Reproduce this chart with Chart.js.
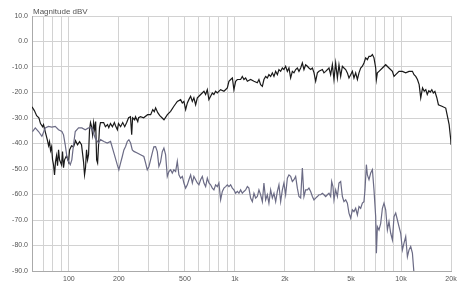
<!DOCTYPE html>
<html>
<head>
<meta charset="utf-8">
<script src="https://cdn.jsdelivr.net/npm/chart.js@4.4.0/dist/chart.umd.min.js"></script>
<style>
  html, body { margin: 0; padding: 0; background: #fff; }
</style>
</head>
<body>
<canvas id="chart" width="465" height="285"></canvas>
<script>
// frequency response
const blackHz = [60,62,64,66,67.5,69.5,70.4,72.4,74.4,75.5,76.5,77.6,78.7,79.8,80.9,82,83.1,84.3,85.5,86.7,87.9,90.4,91.6,92.9,94.2,96.8,99.6,101,103.8,106.7,109.7,112.8,116,119.2,122.6,124.3,126,127.8,129.6,131.4,133.2,135,137,139,141,143,145,147,149,151,153,155,
  162,166,171,174,178,183,188,191,196,199,205,211,217,223,229,235,239,242,249,252,260,263,270,282,298,311,320,327,333,343,353,
  365,374,392,410,429,450,471,482,493,505,517,528,541,554,566,580,594,622,651,666,682,697,714,731,747,765,783,820,859,900,920,943,965,986,1010,1034,1082,1108,1133,1160,1188,1243,1302,1364,1395,1428,1463,1495,1531,1567,1602,1641,1680,1718,1759,1801,1841,1885,1930,1973,2020,2069,2115,2165,2217,2267,2321,2376,2430,2488,2547,2604,2666,2730,2791,2858,2927,2992,3063,3136,3206,3361,3436,3519,3684,3771,3861,3948,4042,4139,4231,4332,4436,4535,4644,4754,4861,4977,5095,5210,5334,5462,5585,5717,5854,5984,6127,6274,6415,6568,6725,6876,7040,7109,7208,7370,7726,8087,8465,8877,9075,9292,9727,10196,10674,11174,11713,11975,12264,12560,12860,13145,13480,13800,14100,14390,14700,15000,15330,15650,16000,16440,16800,17630,18590,19040,19490,19930,20000];
const blackDb = [-25.6,-27.1,-29.1,-29.9,-32.2,-33.4,-32.6,-35.8,-38.9,-40.9,-39.3,-42.8,-41.3,-46.4,-48.4,-52.3,-47.2,-44.8,-48.7,-42.5,-46.4,-48.4,-43.2,-49.5,-46.4,-44.8,-47.2,-42.5,-40.9,-41.3,-38.9,-40.5,-39.3,-40.5,-47.2,-52.3,-49.5,-42.5,-46.4,-44.4,-34.6,-31.8,-33.4,-36.6,-31.8,-34.6,-31.4,-46.4,-47.6,-40.5,-33.8,-31.8,
  -31.8,-33.4,-32.6,-33.8,-32.2,-33.4,-31.8,-33.0,-34.6,-32.2,-33.4,-31.8,-33.4,-31.8,-29.9,-29.5,-36.6,-29.9,-30.7,-29.5,-31.4,-29.9,-29.5,-29.9,-28.7,-28.7,-26.7,-27.5,-26.0,-27.9,-29.1,
  -30.0,-30.7,-28.7,-27.4,-25.4,-23.5,-22.8,-24.1,-23.5,-26.7,-24.1,-22.8,-21.5,-23.5,-22.1,-24.8,-22.1,-20.8,-19.5,-20.8,-18.9,-22.8,-21.5,-20.2,-20.8,-19.5,-20.2,-18.9,-19.5,-18.2,-15.6,-14.9,-14.3,-18.9,-15.6,-14.9,-14.9,-13.7,-14.9,-14.3,-15.6,-14.9,-15.6,-16.2,-14.9,-16.9,-17.6,-14.9,-13.7,-14.3,-13.0,-13.7,-12.3,-13.7,-11.7,-13.0,-11.0,-11.7,-10.4,-11.0,-9.7,-11.7,-10.4,-14.3,-11.7,-12.3,-11.0,-10.4,-11.7,-10.4,-8.4,-11.0,-9.1,-9.7,-10.4,-11.0,-10.4,-12.2,-15.6,-12.3,-11.7,-11.0,-12.3,-11.7,-10.4,-13.0,-9.1,-14.9,-8.4,-14.3,-9.1,-13.7,-9.7,-10.4,-11.0,-12.3,-14.3,-13.0,-11.7,-14.3,-12.3,-14.9,-12.3,-10.4,-9.7,-8.4,-6.4,-7.1,-5.8,-5.8,-5.1,-6.4,-10.4,-14.9,-12.3,-11.7,-10.4,-9.1,-10.4,-11.7,-13.7,-13.0,-11.7,-11.7,-12.3,-11.7,-11.7,-13.0,-13.7,-14.9,-16.9,-22.1,-18.2,-19.5,-18.9,-20.8,-19.3,-19.8,-18.9,-20.2,-19.6,-22.1,-24.8,-25.4,-26.1,-29.4,-32.6,-38.5,-40.5];

const grayHz = [60.4,62.8,65.7,68.8,72.1,75.4,79,82.8,86.7,90.8,92.9,95.1,97.3,99.6,102,104.2,106.7,109.3,114.4,119.8,125.5,131.4,137.6,144.2,151,155.2,162.5,170.3,178.3,186.7,195.6,200,204.8,209.8,214.5,219.6,224.8,229.9,235.4,241,246.4,258.2,270.3,282.9,289.7,296.6,303.3,310.6,318,325,332.9,340.8,348.5,356.8,365.3,373.5,382.4,
  391.5,400.4,410,419.7,429,439.5,449.8,459.9,471,482.3,493,504.8,516.9,528.4,541.1,554.1,566.2,580,593.7,607,621.5,636.3,650.6,666.2,682,697.4,714,731,747.4,765.2,783.4,801,820.2,839.7,858.5,879,900,920.3,942.1,964.5,986.3,1010,1034,1057,1082,1108,1133,1160,1188,1214,1243,1273,1302,1333,1364,1395,1428,1463,1495,1531,1567,1602,1641,1680,1718,1759,1801,1841,1885,1930,1973,2020,2069,2115,2165,2217,2267,2321,2376,2430,2488,2547,2604,2666,
  2730,2791,2858,2927,2992,3063,3136,3206,3283,3361,3436,3519,3602,3684,3771,3824,3894,3948,4042,4139,4231,4332,4436,4535,4644,4754,4861,4977,5095,5210,5334,5462,5585,5717,5854,5984,6068,6188,6274,6415,6568,6725,6876,7040,7109,7208,7370,7546,7726,7899,8087,8280,8465,8670,8877,9075,9292,9513,9727,9959,10196,10425,10674,10928,11174,11439,11713,11975];
const grayDb = [-35.3,-33.9,-35.3,-37.2,-33.9,-33.3,-33.6,-33.3,-34.6,-35.3,-36.6,-40.5,-45.1,-47.0,-48.3,-46.4,-40.5,-35.3,-33.9,-33.9,-34.6,-33.9,-33.9,-37.9,-39.8,-38.5,-39.2,-39.8,-39.2,-43.7,-48.3,-50.3,-47.7,-45.1,-42.5,-41.2,-39.2,-38.5,-39.8,-42.5,-43.1,-43.7,-44.4,-45.1,-47.6,-50.3,-49.1,-46.4,-43.7,-41.3,-41.2,-43.2,-49.0,-47.2,-43.2,-41.8,-44.4,
  -52.9,-51.0,-50.3,-51.6,-50.3,-51.0,-47.0,-52.3,-53.6,-52.9,-55.5,-57.5,-56.2,-54.2,-52.3,-55.5,-52.9,-54.2,-55.5,-56.2,-54.2,-52.9,-55.5,-56.9,-53.6,-55.5,-56.2,-57.5,-58.2,-56.2,-56.9,-55.5,-62.1,-58.8,-57.5,-56.9,-56.2,-56.9,-56.2,-57.5,-58.2,-59.5,-58.8,-59.5,-58.2,-59.5,-58.8,-58.2,-56.9,-57.5,-61.4,-62.8,-59.5,-61.4,-60.8,-58.2,-60.1,-62.8,-55.5,-62.1,-60.1,-63.4,-58.2,-61.4,-59.5,-62.8,-58.8,-56.2,-62.8,-58.2,-55.5,-60.1,-53.6,-52.3,-52.9,-54.9,-54.2,-52.9,-57.5,-60.8,-61.4,-49.6,-60.8,-58.2,
  -58.2,-57.5,-58.8,-60.8,-62.1,-61.4,-60.8,-60.1,-60.1,-59.5,-60.1,-60.8,-60.1,-59.5,-60.8,-54.9,-56.9,-62.1,-58.2,-60.8,-55.5,-54.9,-60.8,-62.8,-62.1,-63.4,-67.3,-69.3,-66.0,-66.7,-65.4,-68.0,-64.7,-65.4,-63.4,-62.8,-58.2,-48.3,-52.3,-54.2,-51.6,-50.3,-58.2,-68.7,-83.0,-72.6,-73.9,-71.3,-65.4,-63.4,-66.0,-73.9,-70.6,-75.2,-77.8,-68.7,-67.3,-70.0,-72.6,-75.2,-81.7,-79.1,-76.5,-84.4,-81.7,-80.4,-83.0,-91.0];

// grid lines on the frequency axis, and which of them get a label
const gridHz = [70,80,90,100,200,300,400,500,600,700,800,900,1000,2000,3000,4000,5000,6000,7000,8000,9000,10000,20000];
const hzLabels = {100:'100', 200:'200', 500:'500', 1000:'1k', 2000:'2k', 5000:'5k', 10000:'10k', 20000:'20k'};

const fontFamily = '"Liberation Sans", Arial, sans-serif';
const tickFont = { family: fontFamily, size: 7 };

function toPoints(xs, ys) {
  return xs.map((x, i) => ({ x: x, y: ys[i] }));
}

// axis caption top left
const captionPlugin = {
  id: 'caption',
  afterDraw(chart) {
    const ctx = chart.ctx;
    ctx.save();
    ctx.font = '8px ' + fontFamily;
    ctx.fillStyle = '#555';
    ctx.textBaseline = 'alphabetic';
    ctx.fillText('Magnitude dBV', 33, 14);
    ctx.restore();
  }
};

new Chart(document.getElementById('chart').getContext('2d'), {
  type: 'line',
  data: {
    datasets: [
      {
        data: toPoints(grayHz, grayDb),
        borderColor: '#6b6b85',
        borderWidth: 1.2,
        pointRadius: 0,
        tension: 0
      },
      {
        data: toPoints(blackHz, blackDb),
        borderColor: '#1a1a1a',
        borderWidth: 1.2,
        pointRadius: 0,
        tension: 0
      }
    ]
  },
  options: {
    responsive: false,
    animation: false,
    layout: { padding: { top: 16, right: 14, left: 0, bottom: 0 } },
    plugins: {
      legend: { display: false },
      tooltip: { enabled: false }
    },
    scales: {
      x: {
        type: 'logarithmic',
        min: 60,
        max: 20000,
        afterBuildTicks: s => { s.ticks = gridHz.map(v => ({ value: v })); },
        afterFit: s => { s.height = 14; },
        ticks: {
          autoSkip: false,
          maxRotation: 0,
          padding: 4,
          font: tickFont,
          color: '#555',
          callback: v => hzLabels[v] || ''
        },
        grid: { color: '#d2d2d2', drawTicks: false },
        border: { color: '#aaa' }
      },
      y: {
        min: -90,
        max: 10,
        afterFit: s => { s.width = 32; },
        ticks: {
          stepSize: 10,
          padding: 4,
          font: tickFont,
          color: '#555',
          callback: v => v.toFixed(1)
        },
        grid: { color: '#d2d2d2', drawTicks: false },
        border: { color: '#aaa' }
      }
    }
  },
  plugins: [captionPlugin]
});
</script>
</body>
</html>
